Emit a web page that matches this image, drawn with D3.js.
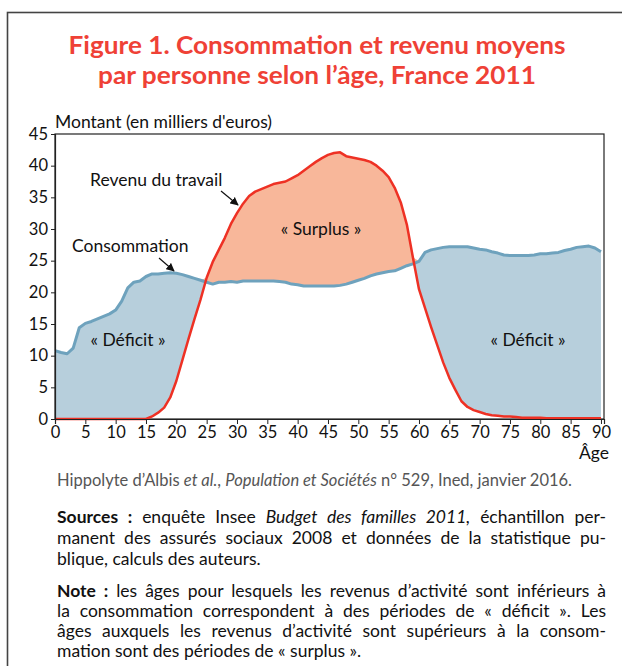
<!DOCTYPE html>
<html>
  <head>
    <meta charset="utf-8">
    <script src="https://d3js.org/d3.v7.min.js"></script>
    <style>
      body { margin: 0; background: #fff; }
      #page { position: relative; width: 622px; height: 666px; overflow: hidden; }
      .ln { position: absolute; left: 57px; width: 549px; font-family: Lato, sans-serif; font-size: 17.5px; line-height: 21px; color: #111; white-space: nowrap; }
      .just { text-align: justify; text-align-last: justify; }
    </style>
  </head>
  <body>
  <div id="page"></div>

    <script type="text/javascript">

var W = 622, H = 666;

// ages 0..90
var ages = d3.range(0, 91);

var consommation = [10.8, 10.5, 10.3, 11.2, 14.4, 15.1, 15.4, 15.8, 16.2, 16.6,
  17.2, 18.6, 20.7, 21.6, 21.8, 22.5, 22.9, 22.9, 23.0, 23.1,
  23.0, 22.8, 22.5, 22.2, 21.9, 21.6, 21.3, 21.6, 21.6, 21.7,
  21.6, 21.8, 21.8, 21.8, 21.8, 21.8, 21.8, 21.7, 21.6, 21.3,
  21.2, 21.0, 21.0, 21.0, 21.0, 21.0, 21.0, 21.1, 21.3, 21.6,
  21.9, 22.2, 22.6, 22.9, 23.1, 23.3, 23.4, 23.8, 24.2, 24.5,
  24.9, 26.3, 26.7, 26.9, 27.1, 27.2, 27.2, 27.2, 27.2, 27.0,
  26.8, 26.7, 26.4, 26.2, 25.9, 25.8, 25.8, 25.8, 25.8, 25.9,
  26.1, 26.1, 26.2, 26.3, 26.6, 26.8, 27.1, 27.2, 27.3, 27.0,
  26.4];

var revenu = [0, 0, 0, 0, 0, 0, 0, 0, 0, 0,
  0, 0, 0, 0, 0, 0, 0.4, 1.0, 1.8, 3.4,
  6.0, 9.3, 12.6, 15.8, 18.9, 22.3, 24.8, 26.7, 28.6, 30.8,
  32.5, 34.0, 35.2, 35.9, 36.3, 36.7, 37.1, 37.3, 37.5, 38.0,
  38.5, 39.2, 39.9, 40.6, 41.2, 41.7, 42.0, 42.1, 41.5, 41.3,
  41.1, 40.9, 40.6, 40.0, 39.2, 38.2, 36.5, 34.2, 30.7, 25.5,
  20.5, 17.5, 14.5, 11.7, 8.9, 6.5, 4.6, 2.8, 1.9, 1.4,
  1.1, 0.8, 0.6, 0.5, 0.4, 0.4, 0.3, 0.2, 0.2, 0.2,
  0.2, 0.1, 0.1, 0.1, 0.1, 0.1, 0.1, 0.1, 0.1, 0.1,
  0.1];

var xTicks = d3.range(0, 91, 5);
var yTicks = d3.range(0, 46, 5);

var titleLines = ["Figure 1. Consommation et revenu moyens", "par personne selon l\u2019\u00e2ge, France 2011"];
var titleWidths = [497, 438];

var data = ages.map(function(a, i) { return {age: a, c: consommation[i], r: revenu[i]}; });

var page = d3.select("#page");
var svg = page.append("svg")
    .attr("width", W)
    .attr("height", H)
    .style("position", "absolute")
    .style("left", 0).style("top", 0);

// outer frame
svg.append("rect")
    .attr("x", 7.5).attr("y", 12.5)
    .attr("width", 640).attr("height", 700)
    .attr("fill", "none")
    .attr("stroke", "#444")
    .attr("stroke-width", 1.6);

// title
svg.selectAll("text.title")
    .data(titleLines)
  .enter().append("text")
    .attr("class", "title")
    .attr("x", 317)
    .attr("y", function(d, i) { return 54 + i * 30; })
    .attr("text-anchor", "middle")
    .attr("font-family", "Lato, sans-serif")
    .attr("font-weight", "bold")
    .attr("font-size", "24px")
    .attr("textLength", function(d, i) { return titleWidths[i]; })
    .attr("lengthAdjust", "spacingAndGlyphs")
    .attr("fill", "#ef4136")
    .text(function(d) { return d; });

var x = d3.scaleLinear().domain([0, 90.5]).range([55, 604]);
var y = d3.scaleLinear().domain([0, 45]).range([419, 134]);

var g = svg.append("g");

// blue area : deficit (consommation above revenu), orange : surplus
var deficit = d3.area()
    .x(function(d) { return x(d.age); })
    .y0(function(d) { return y(d.r); })
    .y1(function(d) { return y(Math.max(d.c, d.r)); });

var surplus = d3.area()
    .x(function(d) { return x(d.age); })
    .y0(function(d) { return y(d.c); })
    .y1(function(d) { return y(Math.max(d.c, d.r)); });

g.append("path").datum(data).attr("d", deficit).attr("fill", "#b7cfdc");
g.append("path").datum(data).attr("d", surplus).attr("fill", "#f8b79a");

// plot frame
g.append("rect")
    .attr("x", 55).attr("y", 134)
    .attr("width", 549).attr("height", 285)
    .attr("fill", "none")
    .attr("stroke", "#222")
    .attr("stroke-width", 1.2);

var lineC = d3.line().x(function(d) { return x(d.age); }).y(function(d) { return y(d.c); });
var lineR = d3.line().x(function(d) { return x(d.age); }).y(function(d) { return y(d.r); });

g.append("path").datum(data).attr("d", lineC)
    .attr("fill", "none").attr("stroke", "#6ea2bd").attr("stroke-width", 3).attr("stroke-linejoin", "round");
g.append("path").datum(data).attr("d", lineR)
    .attr("fill", "none").attr("stroke", "#ee3124").attr("stroke-width", 2.5).attr("stroke-linejoin", "round");

// axes
var yAxis = svg.append("g")
    .attr("transform", "translate(55,0)")
    .call(d3.axisLeft(y).tickValues(yTicks).tickSize(4).tickPadding(3));
var xAxis = svg.append("g")
    .attr("transform", "translate(0,419)")
    .call(d3.axisBottom(x).tickValues(xTicks).tickSize(5).tickPadding(2));

[xAxis, yAxis].forEach(function(a) {
  a.select(".domain").attr("stroke", "#222").attr("stroke-width", 1.2);
  a.selectAll(".tick line").attr("stroke", "#222");
  a.selectAll(".tick text")
    .attr("font-family", "Lato, sans-serif")
    .attr("font-size", "16.5px")
    .attr("fill", "#111");
});

function label(txt, px, py, anchor) {
  svg.append("text")
    .attr("x", px).attr("y", py)
    .attr("text-anchor", anchor || "start")
    .attr("font-family", "Lato, sans-serif")
    .attr("font-size", "17.5px")
    .attr("fill", "#111")
    .text(txt);
}

label("Montant (en milliers d'euros)", 55, 128);
label("\u00c2ge", 609, 459, "end");
label("Revenu du travail", 90, 186);
label("Consommation", 72, 252);
label("\u00ab D\u00e9ficit \u00bb", 128, 346, "middle");
label("\u00ab Surplus \u00bb", 321, 235, "middle");
label("\u00ab D\u00e9ficit \u00bb", 528, 346, "middle");

// arrows
var defs = svg.append("defs");
defs.append("marker")
    .attr("id", "arr")
    .attr("viewBox", "0 0 10 10")
    .attr("refX", 9).attr("refY", 5)
    .attr("markerWidth", 7).attr("markerHeight", 7)
    .attr("orient", "auto")
  .append("path")
    .attr("d", "M0,0L10,5L0,10z")
    .attr("fill", "#111");

svg.append("line")
    .attr("x1", 221).attr("y1", 191).attr("x2", 238).attr("y2", 205)
    .attr("stroke", "#111").attr("stroke-width", 1.2).attr("marker-end", "url(#arr)");
svg.append("line")
    .attr("x1", 159).attr("y1", 258).attr("x2", 174).attr("y2", 271)
    .attr("stroke", "#111").attr("stroke-width", 1.2).attr("marker-end", "url(#arr)");

// caption and notes (y = baseline)
var lines = [
  {y: 487, cls: "", color: "#555", size: 16.5, html: "Hippolyte d\u2019Albis <i>et al.</i>, <i>Population et Soci\u00e9t\u00e9s</i> n\u00b0 529, Ined, janvier 2016."},
  {y: 523, cls: "just", html: "<b>Sources :</b> enqu\u00eate Insee <i>Budget des familles 2011,</i> \u00e9chantillon per-"},
  {y: 544, cls: "just", html: "manent des assur\u00e9s sociaux 2008 et donn\u00e9es de la statistique pu-"},
  {y: 565, cls: "", html: "blique, calculs des auteurs."},
  {y: 597, cls: "just", html: "<b>Note :</b> les \u00e2ges pour lesquels les revenus d\u2019activit\u00e9 sont inf\u00e9rieurs \u00e0"},
  {y: 617, cls: "just", html: "la consommation correspondent \u00e0 des p\u00e9riodes de \u00ab d\u00e9ficit \u00bb. Les"},
  {y: 637, cls: "just", html: "\u00e2ges auxquels les revenus d\u2019activit\u00e9 sont sup\u00e9rieurs \u00e0 la consom-"},
  {y: 657, cls: "", html: "mation sont des p\u00e9riodes de \u00ab surplus \u00bb."}
];

page.selectAll("div.ln")
    .data(lines)
  .enter().append("div")
    .attr("class", function(d) { return "ln " + d.cls; })
    .style("font-size", function(d) { return (d.size || 17.5) + "px"; })
    .style("line-height", function(d) { return ((d.size || 17.5) * 1.2) + "px"; })
    .style("top", function(d) { return (d.y - 0.987 * (d.size || 17.5)) + "px"; })
    .style("color", function(d) { return d.color || "#111"; })
    .html(function(d) { return d.html; });

    </script>
  </body>
</html>
